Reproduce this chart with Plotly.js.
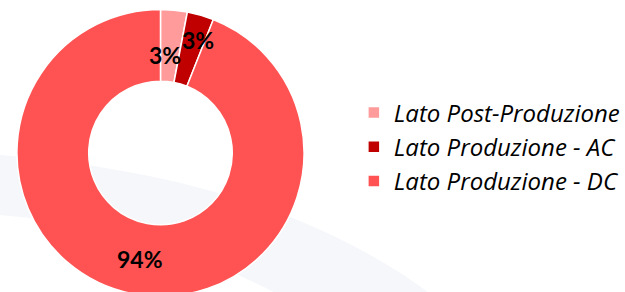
<!DOCTYPE html>
<html><head><meta charset="utf-8">
<script src="https://cdn.plot.ly/plotly-3.0.1.min.js"></script>
<style>html,body{margin:0;padding:0;overflow:hidden;background:#fff;}#chart{width:625px;height:306px;}</style>
</head><body><div id="chart"></div>
<script>
const labels = ["Lato Post-Produzione", "Lato Produzione - AC", "Lato Produzione - DC"];
const values = [3, 3, 94];
const colors = ["#FF9B9B", "#C00000", "#FF5353"];
const labelShift = [[-6, -10], [7, 9], [0, 0]];

const W = 625, H = 306;
const cx = 161, cy = 153, R = 144, hole = 0.5;

const total = values.reduce((a, b) => a + b, 0);
let cum = 0;
const annotations = values.map((v, i) => {
  const mid = (cum + v / 2) / total; cum += v;
  const ang = mid * 2 * Math.PI;
  const r = R * (1 + hole) / 2;
  const px = cx + r * Math.sin(ang), py = cy - r * Math.cos(ang);
  return {
    x: px / W, y: (H - py) / H, xref: 'paper', yref: 'paper',
    xanchor: 'center', yanchor: 'middle',
    text: '<b>' + Math.round(v / total * 100) + '%</b>', showarrow: false,
    xshift: labelShift[i][0], yshift: labelShift[i][1],
    font: {family: 'Lato, sans-serif', size: 23, color: '#000'}
  };
});

const trace = {
  type: 'pie', labels: labels, values: values, hole: hole, sort: false,
  direction: 'clockwise', rotation: 0, textinfo: 'none', hoverinfo: 'none',
  marker: {colors: colors, line: {color: '#fff', width: 1.5}},
  domain: {x: [(cx - R) / W, (cx + R) / W], y: [0, 1]}
};

function P(x, y) { return (x / W).toFixed(4) + ',' + ((H - y) / H).toFixed(4); }
const swoosh = 'M' + P(0, 155) + ' C' + P(180, 170) + ' ' + P(330, 215) + ' ' + P(440, 300) +
  ' L' + P(300, 306) + ' C' + P(220, 260) + ' ' + P(120, 225) + ' ' + P(0, 215) + ' Z';

const layout = {
  width: W, height: H, margin: {l: 0, r: 0, t: 0, b: 0},
  paper_bgcolor: '#fff', plot_bgcolor: '#fff',
  showlegend: true,
  legend: {x: 0.568, y: (H - 147) / H, yanchor: 'middle', xanchor: 'left',
    font: {family: '"Open Sans", sans-serif', size: 24, color: '#000', style: 'italic'},
    tracegroupgap: 0, itemwidth: 30, bgcolor: 'rgba(0,0,0,0)'},
  shapes: [{type: 'path', xref: 'paper', yref: 'paper', path: swoosh, layer: 'below',
    fillcolor: '#f1f4f8', line: {width: 0}, opacity: 0.7}],
  annotations: annotations
};
Plotly.newPlot('chart', [trace], layout, {displayModeBar: false, staticPlot: true});
</script></body></html>
